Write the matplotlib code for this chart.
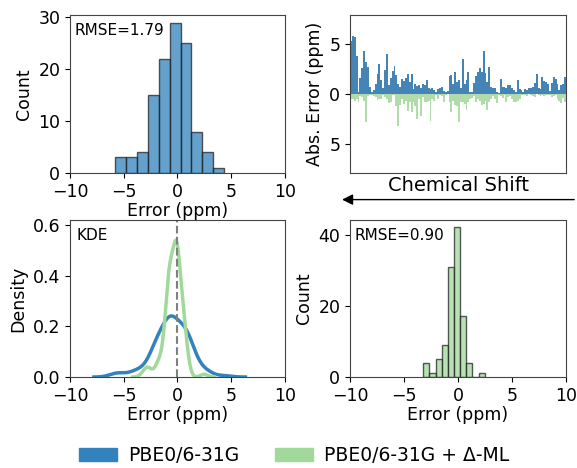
import numpy as np
import matplotlib
matplotlib.use("Agg")
import matplotlib.pyplot as plt
from matplotlib.patches import Patch, FancyArrowPatch

# signed errors (ppm) for each nucleus, ordered by chemical shift
err_base = [
    -5.3, -5.79, -5.7, -3.8, 0.2, 1.6, 2.6, -4.3, -3.2, 2.7,
    0.7, -0.2, -0.4, -1.0, -2.0, -3.0, 1.4, 0.6, -2.4, -4.0,
    0.9, -1.6, -2.3, -2.8, -1.9, -1.0, 0.7, 1.5, -1.35, -1.6,
    -2.0, -1.2, -2.0, -0.5, 1.0, -0.8, -0.9, 0.6, 1.0, -0.9,
    1.4, -0.6, 0.5, -0.6, -0.4, 0.2, 0.5, -0.6, 0.7, -0.3,
    -0.2, 0.3, -1.8, -1.9, -1.0, -2.2, 1.2, -1.4, 0.6, -3.5,
    -1.0, 1.4, -2.2, 0.2, -0.2, 1.1, -1.8, -2.2, 2.6, -2.2,
    4.33, -2.1, -1.2, 2.7, -0.7, 0.6, -0.6, 0.2, -0.1, 1.5,
    0.7, -0.7, -0.6, 0.9, -0.9, -0.6, 0.4, -0.2, -1.4, 0.5,
    -0.4, -0.2, -0.5, 0.4, -0.6, -0.6, 0.7, 1.1, -2.0, -0.6,
    0.5, 1.7, -1.3, -1.2, 1.0, -0.3, -1.1, -1.7, 1.5, -1.0,
    -0.4, 0.9, -1.0, -1.7]

err_ml = [
    0.45, 0.45, -0.7, 0.45, -0.8, -0.2, -0.25, -0.7, -2.8, -0.15,
    -0.05, -0.1, -0.2, 0.3, 0.6, -0.5, 0.5, 0.05, 0.25, -0.5,
    0.85, -0.8, -0.1, -0.1, -1.2, -3.21, -1.1, -0.5, -1.0, -0.7,
    -1.7, -0.8, -1.8, -0.8, -1.2, 2.47, 0.5, -2.2, -0.25, -0.75,
    0.8, -0.7, -2.7, -0.5, 0.7, 0.1, 0.5, -0.05, -0.15, -0.75,
    -0.05, 0.0, -0.8, -1.8, -0.7, -1.1, -1.2, -2.8, 0.8, -0.75,
    -1.0, -1.6, -0.8, -0.5, 0.35, 0.15, -0.8, 0.5, -0.7, -1.1,
    -1.0, -0.7, -1.6, -0.75, 0.5, -0.2, 0.5, 0.9, -0.1, -0.15,
    0.4, 0.05, -0.8, -0.25, -0.15, -0.5, -0.8, -0.8, -0.7, 0.5,
    -0.1, -0.05, 0.1, -0.2, 0.0, -0.1, 0.15, -0.25, 0.0, -0.1,
    -0.15, 0.05, -0.2, -0.05, 0.1, -0.05, -0.25, 0.15, -0.1, -0.5,
    0.65, -0.85, -0.35, -0.8]

labels = ["PBE0/6-31G", "PBE0/6-31G + Δ-ML"]
blue = "#3182bd"
green = "#a1d99b"

plt.rcParams["font.size"] = 12.5
plt.rcParams["axes.edgecolor"] = "#444444"


def kde(x, grid_pts=300):
    # plain gaussian kde, scott bandwidth, cut at 3 bw like seaborn
    x = np.asarray(x)
    bw = x.std(ddof=1) * len(x) ** (-1 / 5)
    grid = np.linspace(x.min() - 3 * bw, x.max() + 3 * bw, grid_pts)
    z = (grid[:, None] - x[None, :]) / bw
    dens = np.exp(-0.5 * z ** 2).sum(axis=1) / (len(x) * bw * np.sqrt(2 * np.pi))
    return grid, dens


def rmse(x):
    return np.sqrt(np.mean(np.asarray(x) ** 2))


fig = plt.figure(figsize=(5.77, 4.68), dpi=100)
ax1 = fig.add_axes([0.1213, 0.6303, 0.3726, 0.3376])
ax2 = fig.add_axes([0.6066, 0.6303, 0.3744, 0.3376])
ax3 = fig.add_axes([0.1213, 0.1944, 0.3726, 0.3355])
ax4 = fig.add_axes([0.6066, 0.1944, 0.3744, 0.3355])

# top left: histogram of baseline errors
ax1.hist(err_base, bins=10, color=blue, alpha=0.75, edgecolor="#222222", linewidth=1)
ax1.set_xlim(-10, 10)
ax1.set_xticks([-10, -5, 0, 5, 10])
ax1.set_xlabel("Error (ppm)", labelpad=1)
ax1.set_ylabel("Count")
ax1.text(0.02, 0.95, "RMSE=%.2f" % rmse(err_base), transform=ax1.transAxes,
         va="top", ha="left", fontsize=11)

# top right: abs errors along the spectrum
idx = np.arange(len(err_base))
ax2.bar(idx, np.abs(err_base), width=1.0, color="#4584b6", linewidth=0)
ax2.bar(idx, -np.abs(err_ml), width=1.0, color="#b2dbab", linewidth=0)
ax2.set_xlim(-0.5, len(idx) - 0.5)
ax2.set_ylim(-7.9, 7.9)
ax2.set_yticks([-5, 0, 5])
ax2.set_yticklabels(["5", "0", "5"])
ax2.set_xticks([])
ax2.set_ylabel("Abs. Error (ppm)")
ax2.set_xlabel("Chemical Shift", fontsize=14, labelpad=2)

# arrow under the chemical shift axis
fig.add_artist(FancyArrowPatch(
    (1.0, 0.5735), (0.588, 0.5735), transform=fig.transFigure,
    arrowstyle="-|>", mutation_scale=16, color="black", lw=1))

# bottom left: KDE of both
gx, gy = kde(err_base)
ax3.plot(gx, gy, color=blue, lw=2.5)
gx, gy = kde(err_ml)
ax3.plot(gx, gy, color=green, lw=2.5)
ax3.axvline(0, color="gray", ls="--", lw=1.5)
ax3.set_xlim(-10, 10)
ax3.set_ylim(0, 0.62)
ax3.set_xticks([-10, -5, 0, 5, 10])
ax3.set_yticks([0, 0.2, 0.4, 0.6])
ax3.set_xlabel("Error (ppm)", labelpad=1)
ax3.set_ylabel("Density")
ax3.text(0.03, 0.95, "KDE", transform=ax3.transAxes, va="top", ha="left", fontsize=11)

# bottom right: histogram of corrected errors
ax4.hist(err_ml, bins=10, color=green, alpha=0.75, edgecolor="#222222", linewidth=1)
ax4.set_xlim(-10, 10)
ax4.set_xticks([-10, -5, 0, 5, 10])
ax4.set_xlabel("Error (ppm)", labelpad=1)
ax4.set_ylabel("Count")
ax4.text(0.02, 0.95, "RMSE=%.2f" % rmse(err_ml), transform=ax4.transAxes,
         va="top", ha="left", fontsize=11)

handles = [Patch(color=blue), Patch(color=green)]
fig.legend(handles, labels, loc="lower center", ncol=2, frameon=False,
           bbox_to_anchor=(0.51, -0.03), fontsize=13.5, handlelength=2.0,
           handleheight=0.75, handletextpad=0.6, columnspacing=1.9)

fig.savefig("out.png", dpi=100)
